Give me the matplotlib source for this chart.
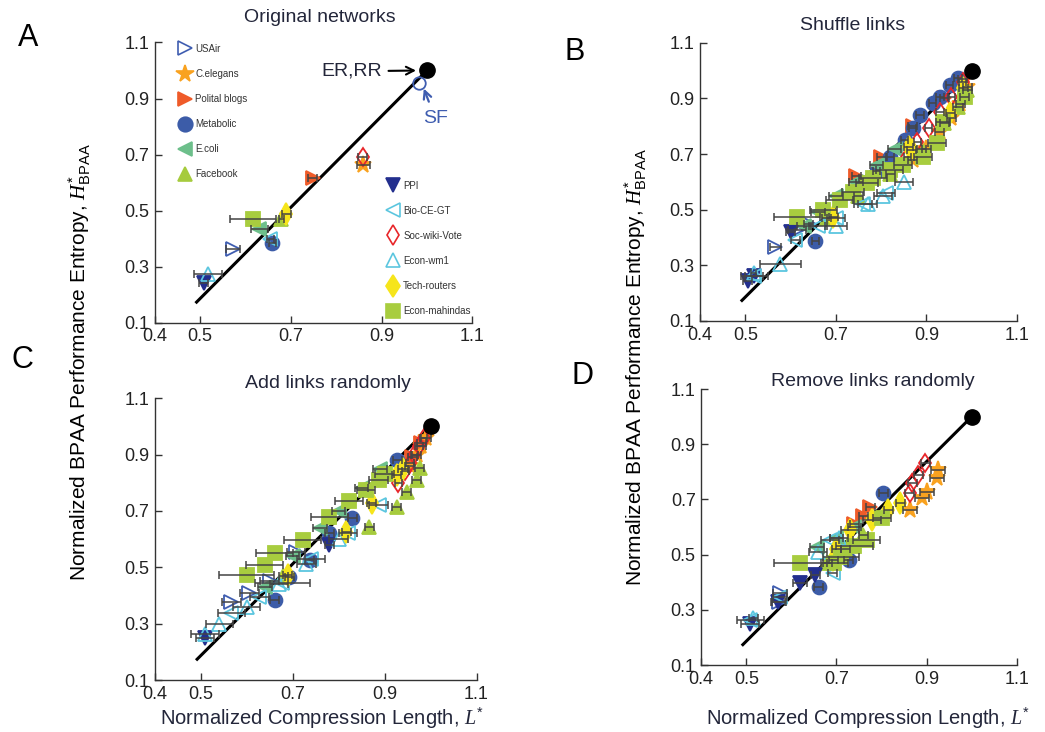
import numpy as np
import matplotlib
matplotlib.use("Agg")
import matplotlib.pyplot as plt
from matplotlib.lines import Line2D

plt.rcParams['font.family'] = ['Liberation Sans', 'DejaVu Sans']
plt.rcParams['mathtext.fontset'] = 'custom'
plt.rcParams['mathtext.rm'] = 'Liberation Sans'
plt.rcParams['mathtext.it'] = 'Liberation Serif:italic'
plt.rcParams['mathtext.sf'] = 'Liberation Sans'

##### dados

names = ["USAir", "C.elegans", "Polital blogs", "Metabolic", "E.coli", "Facebook",
         "PPI", "Bio-CE-GT", "Soc-wiki-Vote", "Econ-wm1", "Tech-routers", "Econ-mahindas"]

# reta de referencia e ponto ER,RR
fit_L = [0.49, 1.0]
fit_H = [0.17, 1.0]
er_L, er_H = 1.0, 1.0
sf_L, sf_H = 0.983, 0.955

# A - redes originais (uma por rede, na ordem de names)
orig_L = [0.572, 0.860, 0.748, 0.659, 0.631, 0.679, 0.508, 0.655, 0.858, 0.518, 0.690, 0.616]
orig_H = [0.364, 0.663, 0.615, 0.386, 0.433, 0.469, 0.243, 0.400, 0.690, 0.273, 0.487, 0.471]
orig_err = [0.015, 0.015, 0.010, 0.008, 0.018, 0.005, 0.010, 0.008, 0.010, 0.031, 0.010, 0.051]

# B - shuffle links (cada linha = uma rede)
shuffle_L = [0.566, 0.614, 0.640,
             0.870, 0.900, 0.930, 0.955, 0.975, 0.990,
             0.745, 0.800, 0.870, 0.940, 0.980,
             0.655, 0.790, 0.820, 0.852, 0.870, 0.886, 0.914, 0.930, 0.952, 0.970,
             0.630, 0.660, 0.700, 0.745, 0.790, 0.830,
             0.680, 0.750, 0.820, 0.890, 0.940, 0.970, 0.990,
             0.505, 0.520, 0.600,
             0.520, 0.610, 0.660, 0.700, 0.760, 0.810,
             0.858, 0.880, 0.905, 0.930, 0.955, 0.980,
             0.518, 0.577, 0.700, 0.770, 0.805, 0.850,
             0.694, 0.861, 0.868, 0.953, 0.982,
             0.614, 0.672, 0.709, 0.738, 0.769, 0.782, 0.819, 0.848, 0.893, 0.923, 0.937, 0.985]
shuffle_H = [0.366, 0.426, 0.450,
             0.680, 0.720, 0.780, 0.830, 0.880, 0.940,
             0.620, 0.690, 0.800, 0.900, 0.970,
             0.388, 0.640, 0.690, 0.751, 0.794, 0.841, 0.884, 0.907, 0.949, 0.975,
             0.440, 0.490, 0.550, 0.600, 0.660, 0.720,
             0.470, 0.550, 0.630, 0.720, 0.810, 0.870, 0.930,
             0.243, 0.260, 0.420,
             0.260, 0.390, 0.440, 0.470, 0.520, 0.560,
             0.690, 0.745, 0.795, 0.850, 0.905, 0.960,
             0.273, 0.306, 0.440, 0.520, 0.550, 0.600,
             0.474, 0.726, 0.715, 0.846, 0.936,
             0.474, 0.500, 0.535, 0.564, 0.596, 0.614, 0.643, 0.661, 0.690, 0.740, 0.817, 0.906]
shuffle_err = [0.012, 0.020, 0.010,
               0.010, 0.010, 0.010, 0.010, 0.010, 0.010,
               0.010, 0.010, 0.010, 0.010, 0.010,
               0.008, 0.008, 0.008, 0.008, 0.008, 0.008, 0.008, 0.008, 0.008, 0.008,
               0.015, 0.015, 0.015, 0.015, 0.015, 0.015,
               0.010, 0.010, 0.010, 0.010, 0.010, 0.010, 0.010,
               0.010, 0.020, 0.010,
               0.030, 0.010, 0.020, 0.020, 0.020, 0.020,
               0.008, 0.008, 0.008, 0.008, 0.008, 0.008,
               0.005, 0.045, 0.025, 0.020, 0.020, 0.020,
               0.010, 0.010, 0.010, 0.010, 0.010,
               0.050, 0.030, 0.030, 0.025, 0.025, 0.030, 0.030, 0.020, 0.020, 0.020, 0.015, 0.010]
shuffle_n = [3, 6, 5, 10, 6, 7, 3, 6, 6, 6, 5, 12]

# C - add links randomly
add_L = [0.567, 0.606, 0.650, 0.708,
         0.955, 0.970, 0.980, 0.990,
         0.960, 0.980,
         0.661, 0.693, 0.737, 0.780, 0.830, 0.928,
         0.640, 0.700, 0.760, 0.800, 0.850, 0.890,
         0.680, 0.867, 0.926, 0.948, 0.970, 0.976,
         0.510, 0.780,
         0.567, 0.628, 0.678, 0.740, 0.820, 0.887,
         0.930, 0.945, 0.955, 0.965, 0.975, 0.985,
         0.509, 0.541, 0.600, 0.670, 0.730, 0.800,
         0.689, 0.817, 0.872, 0.926, 0.940,
         0.600, 0.639, 0.661, 0.722, 0.780, 0.823, 0.860, 0.887, 0.900]
add_H = [0.377, 0.408, 0.450, 0.554,
         0.860, 0.900, 0.930, 0.960,
         0.890, 0.940,
         0.384, 0.465, 0.526, 0.621, 0.675, 0.880,
         0.430, 0.540, 0.640, 0.700, 0.780, 0.850,
         0.470, 0.643, 0.714, 0.767, 0.809, 0.851,
         0.250, 0.580,
         0.337, 0.395, 0.443, 0.530, 0.620, 0.720,
         0.800, 0.840, 0.870, 0.900, 0.930, 0.960,
         0.265, 0.300, 0.360, 0.440, 0.510, 0.600,
         0.472, 0.626, 0.727, 0.826, 0.850,
         0.472, 0.508, 0.550, 0.596, 0.678, 0.737, 0.773, 0.809, 0.830]
add_err = [0.020, 0.020, 0.020, 0.020,
           0.010, 0.010, 0.010, 0.010,
           0.010, 0.010,
           0.010, 0.010, 0.010, 0.010, 0.010, 0.010,
           0.015, 0.015, 0.015, 0.015, 0.015, 0.015,
           0.010, 0.010, 0.010, 0.010, 0.010, 0.010,
           0.020, 0.010,
           0.030, 0.020, 0.060, 0.030, 0.020, 0.020,
           0.008, 0.008, 0.008, 0.008, 0.008, 0.008,
           0.030, 0.030, 0.030, 0.020, 0.020, 0.020,
           0.010, 0.010, 0.010, 0.010, 0.010,
           0.060, 0.040, 0.040, 0.040, 0.040, 0.030, 0.020, 0.020, 0.020]
add_n = [4, 4, 2, 6, 6, 6, 2, 6, 6, 6, 5, 9]

# D - remove links randomly
rem_L = [0.575, 0.572,
         0.863, 0.890, 0.901, 0.923, 0.925,
         0.740, 0.760, 0.775,
         0.661, 0.727, 0.804,
         0.657, 0.700, 0.740,
         0.680, 0.720, 0.760,
         0.509, 0.570, 0.619, 0.653,
         0.509, 0.575, 0.686, 0.692,
         0.863, 0.868, 0.881, 0.897,
         0.515, 0.660, 0.705,
         0.693, 0.700, 0.731, 0.779, 0.815, 0.841,
         0.620, 0.695, 0.710, 0.740, 0.767, 0.801]
rem_H = [0.360, 0.330,
         0.661, 0.705, 0.728, 0.778, 0.807,
         0.610, 0.640, 0.673,
         0.383, 0.480, 0.723,
         0.527, 0.560, 0.600,
         0.470, 0.520, 0.570,
         0.250, 0.330, 0.397, 0.426,
         0.263, 0.346, 0.553, 0.433,
         0.723, 0.759, 0.788, 0.832,
         0.270, 0.510, 0.560,
         0.480, 0.520, 0.590, 0.626, 0.661, 0.686,
         0.470, 0.470, 0.490, 0.530, 0.553, 0.632]
rem_err = [0.015, 0.015,
           0.015, 0.015, 0.015, 0.015, 0.015,
           0.010, 0.010, 0.010,
           0.010, 0.010, 0.010,
           0.015, 0.015, 0.015,
           0.010, 0.010, 0.010,
           0.020, 0.015, 0.015, 0.010,
           0.030, 0.015, 0.020, 0.010,
           0.010, 0.010, 0.010, 0.010,
           0.010, 0.020, 0.020,
           0.010, 0.010, 0.020, 0.020, 0.010, 0.010,
           0.058, 0.030, 0.040, 0.040, 0.030, 0.020]
rem_n = [2, 5, 3, 3, 3, 3, 4, 4, 4, 3, 6, 6]

##### estilos dos marcadores

mk = ['>', '*', '>', 'o', '<', '^', 'v', '<', 'd', '^', 'd', 's']
cor = ['#3f5db0', '#f9a21f', '#ef5b29', '#3c5ca8', '#6dbf8b', '#a6cb3d',
       '#232f8e', '#5cc6df', '#e8262a', '#5cc6df', '#f6e51b', '#a8cd3f']
cheio = [False, True, True, True, True, True, True, False, False, False, True, True]
ms_rede = [9.5, 12.5, 10, 10, 10, 10, 10, 9.5, 9.5, 9.5, 11, 9.5]

txtcor = '#23263a'
ebcor = '#444444'


def desenha(ax, L, H, err, net):
    ax.plot(fit_L, fit_H, color='k', lw=2.2, zorder=2, solid_capstyle='butt')
    for k in range(len(names)):
        idx = np.where(net == k)[0]
        if len(idx) == 0:
            continue
        ax.plot(L[idx], H[idx], linestyle='none', marker=mk[k], ms=ms_rede[k],
                mfc=cor[k] if cheio[k] else 'none', mec=cor[k], mew=1.3, zorder=3)
    ax.errorbar(L, H, xerr=err, fmt='none', ecolor=ebcor, elinewidth=1.1,
                capsize=3, capthick=1.1, zorder=4)
    ax.plot([er_L], [er_H], 'o', color='k', ms=11, zorder=5)


def eixo(ax):
    ax.set_xlim(0.4, 1.1)
    ax.set_ylim(0.1, 1.1)
    ax.set_xticks([0.4, 0.5, 0.7, 0.9, 1.1])
    ax.set_xticklabels(['0.4', '0.5', '0.7', '0.9', '1.1'])
    ax.set_yticks([0.1, 0.3, 0.5, 0.7, 0.9, 1.1])
    ax.set_yticklabels(['0.1', '0.3', '0.5', '0.7', '0.9', '1.1'])
    for s in ['top', 'right']:
        ax.spines[s].set_visible(False)
    for s in ['left', 'bottom']:
        ax.spines[s].set_color('#333333')
        ax.spines[s].set_linewidth(1.0)
    ax.tick_params(direction='in', length=5, width=1, color='#333333',
                   labelsize=13, labelcolor='#222222', pad=4)


fig = plt.figure(figsize=(10.45, 7.32), dpi=100)
axA = fig.add_axes([0.148, 0.559, 0.304, 0.383])
axB = fig.add_axes([0.670, 0.5615, 0.303, 0.380])
axC = fig.add_axes([0.148, 0.071, 0.308, 0.385])
axD = fig.add_axes([0.671, 0.0915, 0.302, 0.377])

# A
netA = np.arange(len(names))
desenha(axA, np.array(orig_L), np.array(orig_H), np.array(orig_err), netA)
axA.plot([sf_L], [sf_H], 'o', ms=9, mfc='none', mec='#3f5db0', mew=1.3, zorder=4)
axA.annotate('ER,RR', xy=(0.982, 1.0), xytext=(0.900, 0.997), ha='right', va='center',
             fontsize=14, color=txtcor,
             arrowprops=dict(arrowstyle='->', color='k', lw=1.5, shrinkA=3, shrinkB=2))
axA.annotate('SF', xy=(0.992, 0.94), xytext=(1.018, 0.83), ha='center', va='center',
             fontsize=14, color='#3f5db0',
             arrowprops=dict(arrowstyle='->', color='#3f5db0', lw=1.6, shrinkA=4, shrinkB=1))
eixo(axA)

# legenda
hs = []
for k in range(len(names)):
    hs.append(Line2D([], [], linestyle='none', marker=mk[k], ms=ms_rede[k] + 0.5,
                     mfc=cor[k] if cheio[k] else 'none', mec=cor[k], mew=1.2))
leg1 = axA.legend(hs[:6], names[:6], loc='upper left', bbox_to_anchor=(0.072, 0.995),
                  frameon=False, fontsize=7, handlelength=1.5, handletextpad=0.3,
                  labelspacing=1.55, borderpad=0, borderaxespad=0, labelcolor='#333333')
axA.add_artist(leg1)
axA.legend(hs[6:], names[6:], loc='upper left', bbox_to_anchor=(0.727, 0.507),
           frameon=False, fontsize=7, handlelength=1.5, handletextpad=0.3,
           labelspacing=1.55, borderpad=0, borderaxespad=0, labelcolor='#333333')

# B, C, D
desenha(axB, np.array(shuffle_L), np.array(shuffle_H), np.array(shuffle_err),
        np.repeat(np.arange(len(names)), shuffle_n))
eixo(axB)
desenha(axC, np.array(add_L), np.array(add_H), np.array(add_err),
        np.repeat(np.arange(len(names)), add_n))
eixo(axC)
desenha(axD, np.array(rem_L), np.array(rem_H), np.array(rem_err),
        np.repeat(np.arange(len(names)), rem_n))
eixo(axD)

# titulos e letras
W, Hf = 1045.0, 732.0
for txt, x, y in [('Original networks', 320, 18), ('Shuffle links', 853, 25),
                  ('Add links randomly', 328, 383), ('Remove links randomly', 873, 382)]:
    fig.text(x / W, 1 - y / Hf, txt, ha='center', va='center', fontsize=14, color=txtcor)
for txt, x, y in [('A', 28, 38), ('B', 575, 52), ('C', 22, 360), ('D', 582, 376)]:
    fig.text(x / W, 1 - y / Hf, txt, ha='center', va='center', fontsize=22, color='k')

ylab = r'Normalized BPAA Performance Entropy, $H^{*}_{\mathrm{BPAA}}$'
fig.text(80 / W, 1 - 362 / Hf, ylab, rotation=90, ha='center', va='center',
         fontsize=15, color='k')
fig.text(636 / W, 1 - 367 / Hf, ylab, rotation=90, ha='center', va='center',
         fontsize=15, color='k')
xlab = r'Normalized Compression Length, $L^{*}$'
fig.text(322 / W, 1 - 718 / Hf, xlab, ha='center', va='center', fontsize=14.5, color=txtcor)
fig.text(868 / W, 1 - 718 / Hf, xlab, ha='center', va='center', fontsize=14.5, color=txtcor)

fig.savefig('out.png', dpi=100)
